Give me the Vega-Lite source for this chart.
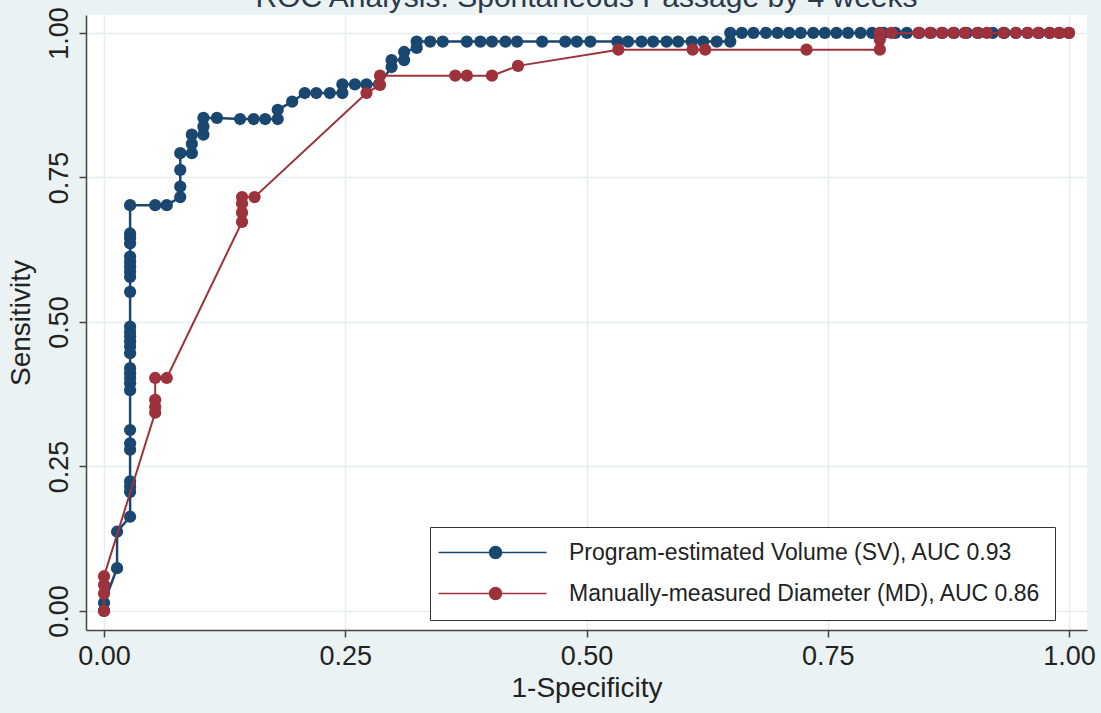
{
  "$schema": "https://vega.github.io/schema/vega-lite/v6.json",
  "width": 1001,
  "height": 615,
  "autosize": {"type": "none"},
  "padding": {"left": 86, "top": 15, "right": 14, "bottom": 83},
  "background": "#EAF2F3",
  "title": {"text": "ROC Analysis: Spontaneous Passage by 4 weeks", "fontSize": 30, "font": "Liberation Sans", "fontWeight": "normal", "color": "#2b3a4a", "baseline": "alphabetic", "offset": 0, "dy": 30, "anchor": "middle", "frame": "group"},
  "config": {
    "view": {"fill": "white", "stroke": null},
    "font": "Liberation Sans",
    "axis": {
      "labelFontSize": 27,
      "titleFontSize": 28,
      "titleFontWeight": "normal",
      "labelColor": "#222",
      "titleColor": "#222",
      "domainColor": "#444",
      "domainWidth": 1.5,
      "tickColor": "#444",
      "tickWidth": 1.5,
      "tickSize": 7,
      "gridColor": "#E6EEF0",
      "gridWidth": 1.5,
      "labelPadding": 6,
      "titlePadding": 5
    }
  },
  "data": {"values": [
    {"k":"SV","x":0,"y":0,"i":0},{"k":"SV","x":0,"y":0.014,"i":1},{"k":"SV","x":0.0135,"y":0.074,"i":2},{"k":"SV","x":0.0135,"y":0.137,"i":3},
    {"k":"SV","x":0.027,"y":0.163,"i":4},{"k":"SV","x":0.027,"y":0.206,"i":5},{"k":"SV","x":0.027,"y":0.215,"i":6},{"k":"SV","x":0.027,"y":0.224,"i":7},
    {"k":"SV","x":0.027,"y":0.279,"i":8},{"k":"SV","x":0.027,"y":0.29,"i":9},{"k":"SV","x":0.027,"y":0.313,"i":10},{"k":"SV","x":0.027,"y":0.382,"i":11},
    {"k":"SV","x":0.027,"y":0.394,"i":12},{"k":"SV","x":0.027,"y":0.403,"i":13},{"k":"SV","x":0.027,"y":0.411,"i":14},{"k":"SV","x":0.027,"y":0.42,"i":15},
    {"k":"SV","x":0.027,"y":0.446,"i":16},{"k":"SV","x":0.027,"y":0.457,"i":17},{"k":"SV","x":0.027,"y":0.466,"i":18},{"k":"SV","x":0.027,"y":0.475,"i":19},
    {"k":"SV","x":0.027,"y":0.483,"i":20},{"k":"SV","x":0.027,"y":0.492,"i":21},{"k":"SV","x":0.027,"y":0.552,"i":22},{"k":"SV","x":0.027,"y":0.578,"i":23},
    {"k":"SV","x":0.027,"y":0.587,"i":24},{"k":"SV","x":0.027,"y":0.596,"i":25},{"k":"SV","x":0.027,"y":0.604,"i":26},{"k":"SV","x":0.027,"y":0.613,"i":27},
    {"k":"SV","x":0.027,"y":0.636,"i":28},{"k":"SV","x":0.027,"y":0.645,"i":29},{"k":"SV","x":0.027,"y":0.653,"i":30},{"k":"SV","x":0.027,"y":0.702,"i":31},
    {"k":"SV","x":0.053,"y":0.702,"i":32},{"k":"SV","x":0.065,"y":0.702,"i":33},{"k":"SV","x":0.079,"y":0.716,"i":34},{"k":"SV","x":0.079,"y":0.734,"i":35},
    {"k":"SV","x":0.079,"y":0.763,"i":36},{"k":"SV","x":0.079,"y":0.792,"i":37},{"k":"SV","x":0.091,"y":0.792,"i":38},{"k":"SV","x":0.091,"y":0.808,"i":39},
    {"k":"SV","x":0.091,"y":0.824,"i":40},{"k":"SV","x":0.103,"y":0.824,"i":41},{"k":"SV","x":0.103,"y":0.838,"i":42},{"k":"SV","x":0.103,"y":0.853,"i":43},
    {"k":"SV","x":0.117,"y":0.853,"i":44},{"k":"SV","x":0.141,"y":0.851,"i":45},{"k":"SV","x":0.155,"y":0.851,"i":46},{"k":"SV","x":0.167,"y":0.851,"i":47},
    {"k":"SV","x":0.18,"y":0.851,"i":48},{"k":"SV","x":0.18,"y":0.867,"i":49},{"k":"SV","x":0.195,"y":0.881,"i":50},{"k":"SV","x":0.208,"y":0.896,"i":51},
    {"k":"SV","x":0.22,"y":0.896,"i":52},{"k":"SV","x":0.234,"y":0.896,"i":53},{"k":"SV","x":0.247,"y":0.896,"i":54},{"k":"SV","x":0.247,"y":0.911,"i":55},
    {"k":"SV","x":0.26,"y":0.911,"i":56},{"k":"SV","x":0.272,"y":0.911,"i":57},{"k":"SV","x":0.285,"y":0.911,"i":58},{"k":"SV","x":0.298,"y":0.941,"i":59},
    {"k":"SV","x":0.298,"y":0.953,"i":60},{"k":"SV","x":0.311,"y":0.953,"i":61},{"k":"SV","x":0.311,"y":0.967,"i":62},{"k":"SV","x":0.324,"y":0.974,"i":63},
    {"k":"SV","x":0.324,"y":0.985,"i":64},{"k":"SV","x":0.338,"y":0.985,"i":65},{"k":"SV","x":0.351,"y":0.985,"i":66},{"k":"SV","x":0.376,"y":0.985,"i":67},
    {"k":"SV","x":0.39,"y":0.985,"i":68},{"k":"SV","x":0.402,"y":0.985,"i":69},{"k":"SV","x":0.416,"y":0.985,"i":70},{"k":"SV","x":0.428,"y":0.985,"i":71},
    {"k":"SV","x":0.454,"y":0.985,"i":72},{"k":"SV","x":0.478,"y":0.985,"i":73},{"k":"SV","x":0.49,"y":0.985,"i":74},{"k":"SV","x":0.504,"y":0.985,"i":75},
    {"k":"SV","x":0.532,"y":0.985,"i":76},{"k":"SV","x":0.543,"y":0.985,"i":77},{"k":"SV","x":0.557,"y":0.985,"i":78},{"k":"SV","x":0.569,"y":0.985,"i":79},
    {"k":"SV","x":0.583,"y":0.985,"i":80},{"k":"SV","x":0.595,"y":0.985,"i":81},{"k":"SV","x":0.609,"y":0.985,"i":82},{"k":"SV","x":0.621,"y":0.985,"i":83},
    {"k":"SV","x":0.635,"y":0.985,"i":84},{"k":"SV","x":0.649,"y":0.985,"i":85},{"k":"SV","x":0.649,"y":1,"i":86},{"k":"SV","x":0.661,"y":1,"i":87},
    {"k":"SV","x":0.673,"y":1,"i":88},{"k":"SV","x":0.686,"y":1,"i":89},{"k":"SV","x":0.698,"y":1,"i":90},{"k":"SV","x":0.71,"y":1,"i":91},
    {"k":"SV","x":0.722,"y":1,"i":92},{"k":"SV","x":0.735,"y":1,"i":93},{"k":"SV","x":0.747,"y":1,"i":94},{"k":"SV","x":0.759,"y":1,"i":95},
    {"k":"SV","x":0.771,"y":1,"i":96},{"k":"SV","x":0.784,"y":1,"i":97},{"k":"SV","x":0.796,"y":1,"i":98},{"k":"SV","x":0.808,"y":1,"i":99},
    {"k":"SV","x":0.82,"y":1,"i":100},{"k":"SV","x":0.832,"y":1,"i":101},{"k":"SV","x":0.845,"y":1,"i":102},{"k":"SV","x":0.857,"y":1,"i":103},
    {"k":"SV","x":0.869,"y":1,"i":104},{"k":"SV","x":0.881,"y":1,"i":105},{"k":"SV","x":0.894,"y":1,"i":106},{"k":"SV","x":0.906,"y":1,"i":107},
    {"k":"SV","x":0.921,"y":1,"i":108},{"k":"SV","x":0.933,"y":1,"i":109},{"k":"SV","x":0.945,"y":1,"i":110},{"k":"SV","x":0.957,"y":1,"i":111},
    {"k":"SV","x":0.969,"y":1,"i":112},{"k":"SV","x":0.98,"y":1,"i":113},{"k":"SV","x":0.99,"y":1,"i":114},{"k":"SV","x":1,"y":1,"i":115},
    {"k":"MD","x":0,"y":0,"i":0},{"k":"MD","x":0,"y":0.03,"i":1},{"k":"MD","x":0,"y":0.045,"i":2},{"k":"MD","x":0,"y":0.06,"i":3},
    {"k":"MD","x":0.053,"y":0.343,"i":4},{"k":"MD","x":0.053,"y":0.353,"i":5},{"k":"MD","x":0.053,"y":0.365,"i":6},{"k":"MD","x":0.053,"y":0.403,"i":7},
    {"k":"MD","x":0.065,"y":0.403,"i":8},{"k":"MD","x":0.143,"y":0.673,"i":9},{"k":"MD","x":0.143,"y":0.689,"i":10},{"k":"MD","x":0.143,"y":0.705,"i":11},
    {"k":"MD","x":0.143,"y":0.716,"i":12},{"k":"MD","x":0.156,"y":0.716,"i":13},{"k":"MD","x":0.272,"y":0.896,"i":14},{"k":"MD","x":0.286,"y":0.91,"i":15},
    {"k":"MD","x":0.286,"y":0.926,"i":16},{"k":"MD","x":0.364,"y":0.926,"i":17},{"k":"MD","x":0.376,"y":0.926,"i":18},{"k":"MD","x":0.402,"y":0.926,"i":19},
    {"k":"MD","x":0.429,"y":0.943,"i":20},{"k":"MD","x":0.533,"y":0.971,"i":21},{"k":"MD","x":0.61,"y":0.971,"i":22},{"k":"MD","x":0.623,"y":0.971,"i":23},
    {"k":"MD","x":0.728,"y":0.971,"i":24},{"k":"MD","x":0.804,"y":0.971,"i":25},{"k":"MD","x":0.804,"y":0.988,"i":26},{"k":"MD","x":0.804,"y":1,"i":27},
    {"k":"MD","x":0.816,"y":1,"i":28},{"k":"MD","x":0.844,"y":1,"i":29},{"k":"MD","x":0.856,"y":1,"i":30},{"k":"MD","x":0.868,"y":1,"i":31},
    {"k":"MD","x":0.88,"y":1,"i":32},{"k":"MD","x":0.892,"y":1,"i":33},{"k":"MD","x":0.905,"y":1,"i":34},{"k":"MD","x":0.915,"y":1,"i":35},
    {"k":"MD","x":0.932,"y":1,"i":36},{"k":"MD","x":0.945,"y":1,"i":37},{"k":"MD","x":0.957,"y":1,"i":38},{"k":"MD","x":0.968,"y":1,"i":39},
    {"k":"MD","x":0.98,"y":1,"i":40},{"k":"MD","x":0.99,"y":1,"i":41},{"k":"MD","x":1,"y":1,"i":42}
  ]},
  "transform": [
    {"calculate": "datum.k == 'SV' ? 'Program-estimated Volume (SV), AUC 0.93' : 'Manually-measured Diameter (MD), AUC 0.86'", "as": "s"}
  ],
  "encoding": {
    "x": {"field": "x", "type": "quantitative", "title": "1-Specificity",
          "scale": {"domain": [-0.0187, 1.0187], "nice": false, "zero": false},
          "axis": {"values": [0, 0.25, 0.5, 0.75, 1], "format": ".2f"}},
    "y": {"field": "y", "type": "quantitative", "title": "Sensitivity",
          "scale": {"domain": [-0.033, 1.031], "nice": false, "zero": false},
          "axis": {"values": [0, 0.25, 0.5, 0.75, 1], "format": ".2f", "labelAngle": 270, "labelAlign": "center", "labelBaseline": "bottom", "labelPadding": 6, "titlePadding": 10}},
    "color": {"field": "s", "type": "nominal",
      "scale": {"domain": ["Program-estimated Volume (SV), AUC 0.93", "Manually-measured Diameter (MD), AUC 0.86"], "range": ["#1A476F", "#9E323C"]},
      "legend": {"orient": "none", "legendX": 344, "legendY": 512, "title": null,
        "fillColor": "white", "strokeColor": "#333", "padding": 14,
        "symbolType": "M-2.83,0H15.17M5.67,0A1,1,0,1,1,7.67,0A1,1,0,1,1,5.67,0Z",
        "symbolSize": 144, "symbolStrokeWidth": 1.5, "labelFontSize": 23, "labelOffset": 102,
        "labelLimit": 0, "rowPadding": 17, "labelColor": "#222",
        "encode": {"symbols": {"update": {"fill": {"scale": "color", "field": "value"}, "stroke": {"scale": "color", "field": "value"}, "opacity": {"value": 1}}}}}},
    "order": {"field": "i", "type": "quantitative"}
  },
  "layer": [
    {"transform": [{"filter": {"field": "k", "equal": "SV"}}], "mark": {"type": "line", "strokeWidth": 2.5}},
    {"transform": [{"filter": {"field": "k", "equal": "SV"}}], "mark": {"type": "point", "filled": true, "shape": "circle", "size": 150, "opacity": 1}},
    {"transform": [{"filter": {"field": "k", "equal": "MD"}}], "mark": {"type": "line", "strokeWidth": 2}},
    {"transform": [{"filter": {"field": "k", "equal": "MD"}}], "mark": {"type": "point", "filled": true, "shape": "circle", "size": 150, "opacity": 1}}
  ]
}
